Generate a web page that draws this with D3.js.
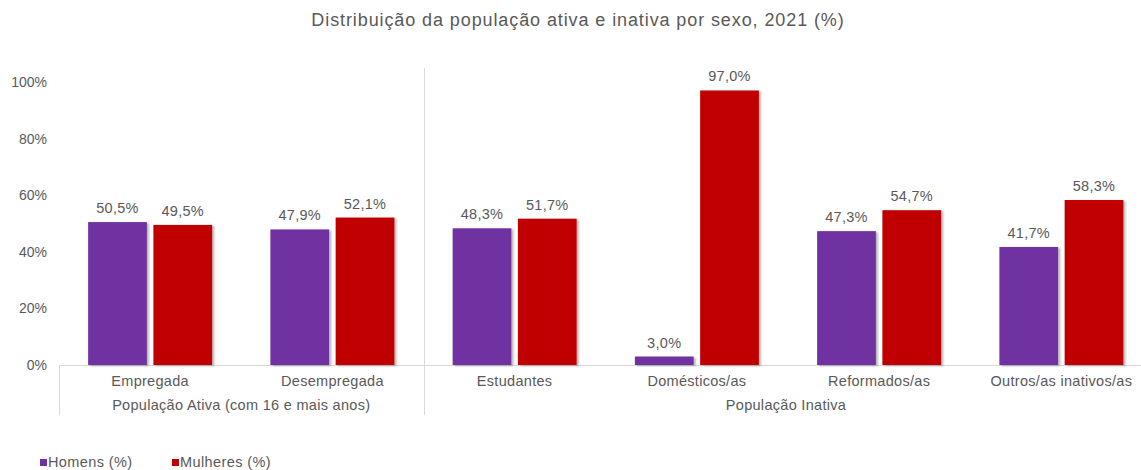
<!DOCTYPE html>
<html><head><meta charset="utf-8">
<script src="https://cdn.jsdelivr.net/npm/d3@7"></script>
<style>body{margin:0;background:#fff;}svg{display:block;font-family:"Liberation Sans",Arial,Helvetica,sans-serif;}</style>
</head><body><svg id="c" width="1141" height="470"></svg>
<script>
const categories = ["Empregada","Desempregada","Estudantes","Domésticos/as","Reformados/as","Outros/as inativos/as"];
const groups = [{name:"População Ativa (com 16 e mais anos)", from:0, to:1},{name:"População Inativa", from:2, to:5}];
const seriesNames = ["Homens (%)","Mulheres (%)"];
const homens = [50.5,47.9,48.3,3.0,47.3,41.7];
const mulheres = [49.5,52.1,51.7,97.0,54.7,58.3];
const yTicks = [0,20,40,60,80,100];
const colors = ["#7030A0","#C00000"];

const svg = d3.select("#c");
const textColor = "#595959";
const defs = svg.append("defs");
const f = defs.append("filter").attr("id","sh").attr("x","-10%").attr("y","-10%").attr("width","130%").attr("height","130%");
f.append("feDropShadow").attr("dx",2).attr("dy",1).attr("stdDeviation",1.2).attr("flood-color","#000").attr("flood-opacity",0.3);

const x0 = d3.scaleBand().domain(categories).range([59,1152.5]).paddingInner(0).paddingOuter(0);
const x1 = d3.scaleBand().domain([0,1]).range([x0.bandwidth()/2-62, x0.bandwidth()/2+62]).paddingInner(0.1);
const y = d3.scaleLinear().domain([0,100]).range([365,82]);

svg.append("text").attr("x",578).attr("y",26).attr("text-anchor","middle").attr("font-size",18).attr("letter-spacing",0.9).attr("fill",textColor)
  .text("Distribuição da população ativa e inativa por sexo, 2021 (%)");

// y axis labels
svg.append("g").selectAll("text").data(yTicks).join("text")
  .attr("x",47).attr("y",d=>y(d)+5).attr("text-anchor","end").attr("font-size",14).attr("fill",textColor)
  .text(d=>d+"%");

// axis lines
const lineColor = "#d9d9d9";
svg.append("line").attr("x1",59).attr("x2",1141).attr("y1",365.5).attr("y2",365.5).attr("stroke",lineColor);
svg.append("line").attr("x1",59.5).attr("x2",59.5).attr("y1",365).attr("y2",415).attr("stroke",lineColor);
const sepX = Math.round(x0(categories[2]))+0.5;
svg.append("line").attr("x1",sepX).attr("x2",sepX).attr("y1",68).attr("y2",415).attr("stroke",lineColor);

const data = categories.map((c,i)=>({c, v:[homens[i],mulheres[i]]}));
const fmt = v => v.toFixed(1).replace(".",",")+"%";
const g = svg.append("g").selectAll("g").data(data).join("g").attr("transform",d=>`translate(${x0(d.c)},0)`);
g.selectAll("rect").data(d=>d.v.map((v,k)=>({v,k}))).join("rect")
  .attr("x",d=>x1(d.k)).attr("width",x1.bandwidth()).attr("y",d=>y(d.v)).attr("height",d=>y(0)-y(d.v))
  .attr("fill",d=>colors[d.k]).attr("filter","url(#sh)");
g.selectAll("text.v").data(d=>d.v.map((v,k)=>({v,k}))).join("text").attr("class","v")
  .attr("x",d=>x1(d.k)+x1.bandwidth()/2).attr("y",d=>y(d.v)-9).attr("text-anchor","middle")
  .attr("font-size",14.5).attr("letter-spacing",0.3).attr("fill",textColor).text(d=>fmt(d.v));

// category labels
svg.append("g").selectAll("text").data(categories).join("text")
  .attr("x",d=>x0(d)+x0.bandwidth()/2).attr("y",386).attr("text-anchor","middle")
  .attr("font-size",14.5).attr("letter-spacing",0.3).attr("fill",textColor).text(d=>d);
// group labels
svg.append("g").selectAll("text").data(groups).join("text")
  .attr("x",d=>(x0(categories[d.from])+x0(categories[d.to])+x0.bandwidth())/2 - (d.to===5?2:0))
  .attr("y",410).attr("text-anchor","middle").attr("font-size",14.5).attr("letter-spacing",0.3).attr("fill",textColor).text(d=>d.name);

// legend
const legX = [40,172];
const lg = svg.append("g").selectAll("g").data(seriesNames).join("g").attr("transform",(d,i)=>`translate(${legX[i]},0)`);
lg.append("rect").attr("x",0).attr("y",459).attr("width",7).attr("height",7).attr("fill",(d,i)=>colors[i]);
lg.append("text").attr("x",8).attr("y",467).attr("font-size",14.5).attr("letter-spacing",0.4).attr("fill",textColor).text(d=>d);
</script></body></html>
